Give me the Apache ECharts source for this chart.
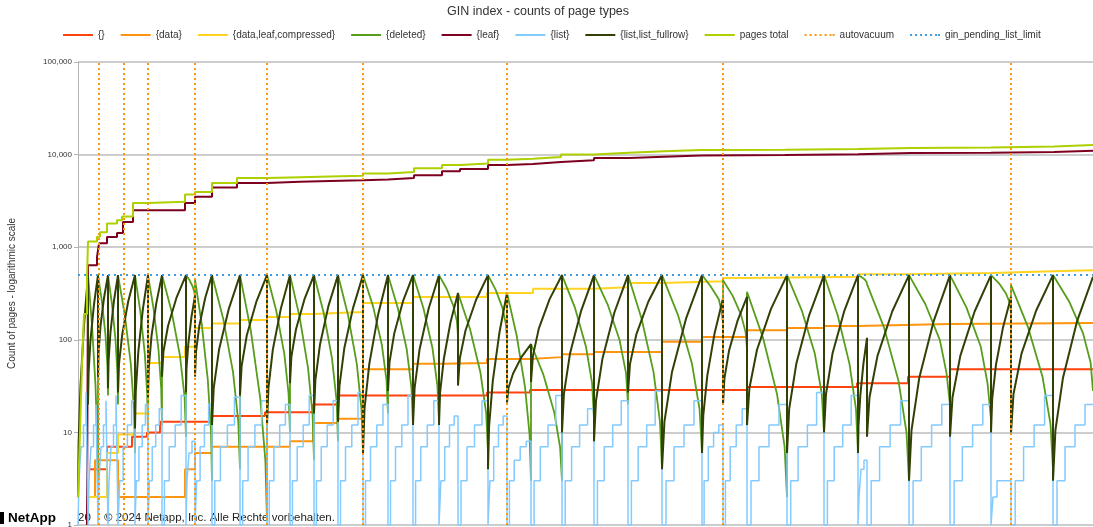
<!DOCTYPE html>
<html>
<head>
<meta charset="utf-8">
<title>GIN index - counts of page types</title>
<script src="https://cdn.jsdelivr.net/npm/echarts@6/dist/echarts.min.js"></script>
<style>
  html, body { margin: 0; padding: 0; background: #fff; }
  #chart { width: 1093px; height: 527px; }
</style>
</head>
<body>
<div id="chart"></div>
<script>
// Sample index (x) and page counts (y) for each page type of the GIN index.
const chartTitle = 'GIN index - counts of page types';
const yAxisName = 'Count of pages - logarithmic scale';
const yTickLabels = ['1', '10', '100', '1,000', '10,000', '100,000'];
const seriesNames = ['{}', '{data}', '{data,leaf,compressed}', '{deleted}', '{leaf}', '{list}',
  '{list,list_fullrow}', 'pages total', 'autovacuum', 'gin_pending_list_limit'];

const emptyPages = [[12,4],[29,7],[54,9],[69,10],[82,13],[134,15],[187,16.5],[235,20],[260,25],
  [409,27],[452,28.7],[669,31],[779,34],[830,40],[872,48],[1015,48]];

const dataPages = [[10,2],[17,5],[40,2],[107,4],[117,6],[134,7],[212,8],[235,12.6],[260,14],
  [285,48],[335,55],[365,56],[409,62],[452,65],[484,70],[516,74],[584,95],[624,107],[669,127],
  [709,134],[746,141],[780,148],[872,152],[1015,152]];

const compressedPages = [[10,2],[29,6],[40,9.5],[57,16],[70,56],[84,65],[107,84],[117,134],
  [134,150],[162,164],[189,176],[212,190],[236,195],[260,200],[285,250],[335,290],[409,320],
  [455,355],[516,370],[550,410],[584,430],[645,465],[669,480],[780,510],[831,525],[913,550],
  [975,565],[1015,565]];

const deletedPages = [
  [10,500],[14,144],[17.5,32],[19.4,7.7],
  [20,2],[20,500],[24,255],[27.5,112],[29.4,52],
  [30,25],[30,500],[34,242],[37.5,100],[39.4,44],
  [40,20],[40,500],[46.8,185],[52.8,55],[56,17.7],
  [57,6],[57,500],[62.2,207],[66.8,71],[69.2,26],
  [70,10],[70,500],[75.6,216],[80.5,78],[83.2,30],
  [84,12],[84,500],[93.6,202],[102,67],[106.6,24],
  [108,9],[108,500],[111.6,439],[114.8,374],[116.5,323],
  [117,280],[117,450],[123.8,146],[129.8,37],[133,10.2],
  [134,3],[134,500],[145.2,169],[155,45],[160.3,13],
  [162,4],[162,500],[172.8,126],[182.3,23],[187.4,4.9],
  [189,1.1],[189,500],[198.2,207],[206.3,71],[210.6,26],
  [212,10],[212,500],[221.6,177],[230,50],[234.6,15.5],
  [236,5],[236,500],[245.6,197],[254,63],[258.6,22],
  [260,8],[260,500],[270,185],[278.8,55],[283.5,17.7],
  [285,6],[285,500],[295,231],[303.8,89],[308.5,37],
  [310,16],[310,500],[320,216],[328.8,78],[333.5,30],
  [335,12],[335,500],[345.4,220],[354.5,81],[359.4,32],
  [361,13],[361,500],[368.6,356],[375.3,234],[378.9,159],
  [380,110],[380,320],[392,131],[402.5,44],[408.2,16],
  [410,6],[410,500],[417.6,348],[424.3,224],[427.9,148],
  [429,100],[429,320],[438.6,112],[447,31],[451.6,9.4],
  [453,3],[453,90],[465.4,42],[476.3,16.4],[482.1,6.9],
  [484,3],[484,500],[496.8,224],[508,84],[514.1,34],
  [516,14],[516,500],[529.6,242],[541.5,100],[548,44],
  [550,20],[550,500],[563.6,169],[575.5,45],[582,13],
  [584,4],[584,500],[600,185],[614,55],[621.6,17.7],
  [624,6],[624,500],[632.4,381],[640.8,274],[643.7,201],
  [645,150],[645,440],[654.6,300],[663,187],[667.6,121],
  [669,80],[669,330],[685,105],[699,26],[706.6,7],
  [709,2],[709,500],[723.8,207],[736.8,71],[743.8,26],
  [746,10],[746,500],[759.6,185],[771.5,55],[778,17.7],
  [780,6],[780,500],[783.6,475],[786.8,447],[788.5,423],
  [789,400],[789,420],[805.8,138],[820.5,36],[828.5,10],
  [831,3],[831,500],[847.4,242],[861.8,100],[868.5,44],
  [872,20],[872,500],[888.4,224],[902.8,84],[909.5,34],
  [913,14],[913,500],[921,407],[928,316],[931.8,250],
  [933,200],[933,390],[949.8,139],[964.5,40],[972.5,12.3],
  [975,4],[975,500],[991,261],[1005,118],[1012.6,57],
  [1015,28]
];

const leafPages = [[9,1],[10,640],[19,780],[21,1100],[29,1290],[39,1420],[45,1870],[55,2500],
  [107,3000],[117,3500],[134,4400],[159,4950],[189,5100],[222,5200],[252,5300],[285,5400],
  [310,5600],[336,6000],[364,6600],[382,7000],[410,7700],[429,7900],[455,8300],[483,8700],
  [516,9200],[551,9500],[586,9800],[623,9900],[707,10100],[780,10400],[833,10500],[913,10700],
  [976,11000],[1015,11000]];

const listPages = [
  [0,1],[1,3],[3,7],[5.5,12],[8,27],
  [10,1],[11,3],[13,7],[15.5,12],[18,20],
  [20,1],[21,3],[23,7],[25.5,12],[28,22],
  [30,1],[31,3],[33,7],[35.5,12],[38,25],
  [40,1],[41.7,3],[45.1,7],[49.4,12],[53.6,22],
  [57,1],[58.3,3],[60.9,7],[64.2,12],[67.4,20],
  [70,1],[71.4,3],[74.2,7],[77.7,12],[81.2,18],
  [84,1],[86.4,3],[91.2,7],[97.2,12],[103.2,25],
  [108,1],[109,3],[111,6],[114,8],
  [117,1],[118.7,3],[122.1,7],[126.4,12],[130.6,20],
  [134,1],[136.8,3],[142.4,7],[149.4,12],[156.4,24],
  [162,1],[164.7,3],[170.1,7],[176.9,12],[183.6,22],
  [189,1],[191.3,3],[195.9,7],[201.7,12],[207.4,20],
  [212,1],[214.4,3],[219.2,7],[225.2,12],[231.2,25],
  [236,1],[238.4,3],[243.2,7],[249.2,12],[255.2,22],
  [260,1],[262.5,3],[267.5,7],[273.8,12],[280,27],
  [285,1],[287.5,3],[292.5,7],[298.8,12],[305,20],
  [310,1],[312.5,3],[317.5,7],[323.8,12],[330,25],
  [335,1],[337.6,3],[342.8,7],[349.3,12],[355.8,22],
  [361,1],[362.9,3],[366.7,7],[371.5,12],[376.2,15],
  [380,1],[383,3],[389,7],[396.5,12],[404,22],
  [410,1],[411.9,3],[415.7,7],[420.5,12],[425.2,15],
  [429,1],[431.4,3],[436.2,5],[442.2,7],[448.2,8],
  [453,1],[456.1,3],[462.3,7],[470,12],[477.8,25],
  [484,1],[487.2,3],[493.6,7],[501.6,12],[509.6,18],
  [516,1],[519.4,3],[526.2,7],[534.7,12],[543.2,22],
  [550,1],[553.4,3],[560.2,7],[568.7,12],[577.2,28],
  [584,1],[588,3],[596,7],[606,12],[616,22],
  [624,1],[626.1,3],[630.3,7],[635.6,10],[640.8,12],
  [645,1],[647.4,3],[652.2,7],[658.2,12],[664.2,18],
  [669,1],[673,3],[681,7],[691,12],[701,20],
  [709,1],[712.7,3],[720.1,7],[729.4,12],[738.6,27],
  [746,1],[749.4,3],[756.2,7],[764.7,12],[773.2,25],
  [780,1],[781,2],[783,4],[786,5],
  [789,1],[793.2,3],[801.6,7],[812.1,12],[822.6,22],
  [831,1],[835.1,3],[843.3,7],[853.6,12],[863.8,20],
  [872,1],[876.1,3],[884.3,7],[894.6,12],[904.8,20],
  [913,1],[915,2],[919,3],
  [933,1],[937.2,3],[945.6,7],[956.1,12],[966.6,25],
  [975,1],[979,3],[987,7],[997,12],[1007,20],
  [1015,20]
];

const fullrowPages = [
  [0,2],[0.6,7.7],[2.5,32],[6,144],
  [10,500],[10,20],[10.6,44],[12.5,100],[16,242],
  [20,500],[20,40],[20.6,74],[22.5,141],[26,283],
  [30,500],[30,30],[30.6,60],[32.5,122],[36,266],
  [40,500],[40,27],[41,55],[44.3,116],[50.2,259],
  [57,500],[57,11],[57.8,28],[60.3,74],[64.8,212],
  [70,500],[70,24],[70.8,50],[73.5,110],[78.4,252],
  [84,500],[84,40],[85.4,74],[90,141],[98.4,283],
  [108,500],[108,27],[108.5,49],[110.3,90],[113.4,175],
  [117,300],[117,40],[118,74],[121.3,141],[127.2,283],
  [134,500],[134,12],[135.7,30],[141,78],[150.8,216],
  [162,500],[162,25],[163.6,52],[168.8,112],[178.2,255],
  [189,500],[189,12],[190.4,30],[194.8,78],[202.8,216],
  [212,500],[212,34],[213.4,66],[218,130],[226.4,273],
  [236,500],[236,16],[237.4,37],[242,89],[250.4,231],
  [260,500],[260,13],[261.5,32],[266.3,81],[275,220],
  [285,500],[285,6],[286.5,18],[291.3,55],[300,185],
  [310,500],[310,28],[311.5,57],[316.3,118],[325,261],
  [335,500],[335,12],[336.6,30],[341.5,78],[350.6,216],
  [361,500],[361,12],[362.1,27],[365.8,62],[372.4,153],
  [380,320],[380,32],[381.8,63],[387.5,126],[398,269],
  [410,500],[410,4],[411.1,11.7],[414.8,36],[421.4,119],
  [429,320],[429,21],[430.4,30],[435,43],[443.4,65],
  [453,90],[453,35],[454.9,67],[460.8,132],[471.6,275],
  [484,500],[484,10],[485.9,26],[492,71],[503.2,207],
  [516,500],[516,8],[518,22],[524.5,63],[536.4,197],
  [550,500],[550,27],[552,55],[558.5,116],[570.4,259],
  [584,500],[584,4],[586.4,13],[594,45],[608,169],
  [624,500],[624,6],[625.3,15.4],[629.3,41],[636.6,118],
  [645,280],[645,20],[646.4,38],[651,76],[659.4,159],
  [669,290],[669,12],[671.4,30],[679,78],[693,216],
  [709,500],[709,6],[711.2,18],[718.3,55],[731.2,185],
  [746,500],[746,10],[748,26],[754.5,71],[766.4,207],
  [780,500],[780,6],[780.5,12],[782.3,25],[785.4,55],
  [789,105],[789,9],[791.5,24],[799.5,67],[814.2,202],
  [831,500],[831,3],[833.5,10.5],[841.3,39],[855.6,158],
  [872,500],[872,9],[874.5,24],[882.3,67],[896.6,202],
  [913,500],[913,10],[914.2,23],[918,54],[925,136],
  [933,290],[933,10],[935.5,26],[943.5,71],[958.2,207],
  [975,500],[975,3],[977.4,10.5],[985,39],[999,158],
  [1015,480]
];

const totalPages = [[0,2],[2,10],[4,55],[6,190],[9,480],[10,1150],[19,1300],[22,1450],[29,1800],
  [39,1950],[44,2150],[55,3000],[70,3100],[107,3700],[117,3950],[134,4950],[159,5600],[189,5700],
  [222,5800],[252,5900],[285,6250],[310,6500],[336,7100],[364,7700],[382,8000],[410,8800],
  [429,9000],[455,9400],[483,10000],[516,10500],[551,10900],[586,11200],[623,11300],[707,11500],
  [780,11800],[833,11950],[913,12200],[976,12700],[1015,12700]];

const autovacuumAt = [21, 46, 70, 117, 189, 285, 429, 645, 933];
const pendingListLimit = 500;
const sampleRange = [0, 1015];

const FONT = '"Liberation Sans", Arial, sans-serif';
const colors = ['#ff420e', '#ff950e', '#ffd320', '#579d1c', '#7e0021', '#83caff',
  '#314004', '#aecf00', '#ff950e', '#3d9be0'];

// Legend keys: a plain bar for solid lines, a row of dots for dotted lines.
const solidKey = 'path://M0,0H30V2H0Z';
const dottedKey = 'path://M0,0H2V2H0Z M5,0H7V2H5Z M10,0H12V2H10Z M15,0H17V2H15Z M20,0H22V2H20Z M25,0H27V2H25Z M28,0H30V2H28Z';

function lineSeries(i, data, opts) {
  return Object.assign({
    name: seriesNames[i],
    type: 'line',
    data: data,
    symbol: 'none',
    showSymbol: false,
    silent: true,
    animation: false,
    emphasis: { disabled: true },
    color: colors[i],
    lineStyle: { color: colors[i], width: 2 }
  }, opts || {});
}

const dotted = [2, 3];

const option = {
  animation: false,
  backgroundColor: '#ffffff',
  title: {
    text: chartTitle,
    left: 447,
    top: 5,
    padding: 0,
    textStyle: { fontFamily: FONT, fontSize: 12.5, fontWeight: 'normal', color: '#333' }
  },
  legend: {
    left: 63,
    top: 30,
    padding: 0,
    itemWidth: 30,
    itemHeight: 2,
    itemGap: 16,
    selectedMode: false,
    data: seriesNames.map(function (n, i) {
      return { name: n, icon: i >= 8 ? dottedKey : solidKey, itemStyle: { color: colors[i] } };
    }),
    textStyle: { fontFamily: FONT, fontSize: 10, color: '#333' }
  },
  grid: { left: 78, right: 0, top: 62, bottom: 2, containLabel: false, outerBoundsMode: 'none' },
  xAxis: {
    type: 'value',
    min: sampleRange[0],
    max: sampleRange[1],
    axisLine: { show: false },
    axisTick: { show: false },
    axisLabel: { show: false },
    splitLine: { show: false }
  },
  yAxis: {
    type: 'log',
    logBase: 10,
    min: 1,
    max: 100000,
    name: yAxisName,
    nameLocation: 'middle',
    nameGap: 61,
    nameTextStyle: { fontFamily: FONT, fontSize: 10, color: '#333' },
    axisLine: { show: true, lineStyle: { color: '#b3b3b3', width: 1 } },
    axisTick: { show: true, length: 4, lineStyle: { color: '#b3b3b3' } },
    axisLabel: {
      fontFamily: FONT, fontSize: 8, color: '#333', margin: 6,
      formatter: function (v) { return yTickLabels[Math.round(Math.log10(v))]; }
    },
    splitLine: { show: true, lineStyle: { color: '#bdbdbd', width: 1.5 } },
    minorTick: { show: false },
    minorSplitLine: { show: false }
  },
  series: [
    lineSeries(0, emptyPages, { step: 'end' }),
    lineSeries(1, dataPages, { step: 'end' }),
    lineSeries(2, compressedPages, { step: 'end' }),
    lineSeries(3, deletedPages, { lineStyle: { color: colors[3], width: 1.8 } }),
    lineSeries(4, leafPages, { step: 'end' }),
    lineSeries(5, listPages, { step: 'end', lineStyle: { color: colors[5], width: 1.5 } }),
    lineSeries(6, fullrowPages, { lineStyle: { color: colors[6], width: 2 } }),
    lineSeries(7, totalPages, { step: 'end' }),
    lineSeries(8, [], {
      lineStyle: { color: colors[8], width: 2, type: dotted },
      markLine: {
        silent: true,
        animation: false,
        symbol: ['none', 'none'],
        label: { show: false },
        lineStyle: { color: colors[8], width: 2, type: dotted },
        data: autovacuumAt.map(function (t) { return { xAxis: t }; })
      }
    }),
    lineSeries(9, [[sampleRange[0], pendingListLimit], [sampleRange[1], pendingListLimit]], {
      lineStyle: { color: colors[9], width: 2, type: [2, 4] }
    })
  ],
  graphic: [
    { type: 'rect', left: 0, top: 512, shape: { width: 4, height: 12 }, style: { fill: '#000' }, silent: true },
    { type: 'text', left: 8, top: 511, style: { text: 'NetApp', font: 'bold 13.5px ' + FONT, fill: '#000' }, silent: true },
    { type: 'text', left: 78, top: 512, style: { text: '20', font: '11.5px ' + FONT, fill: '#222' }, silent: true },
    { type: 'text', left: 104, top: 512, style: { text: '\u00a9 2024 Netapp, Inc. Alle Rechte vorbehalten.', font: '11.5px ' + FONT, fill: '#222' }, silent: true }
  ]
};

const chart = echarts.init(document.getElementById('chart'), null, { renderer: 'canvas' });
chart.setOption(option);
</script>
</body>
</html>
